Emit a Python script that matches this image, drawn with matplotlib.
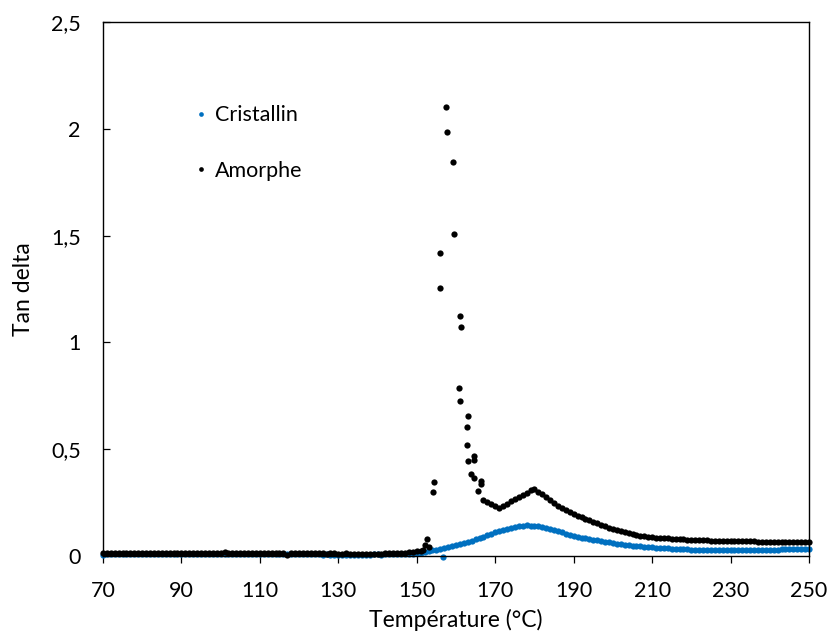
import numpy as np
import matplotlib
matplotlib.use('Agg')
import matplotlib.pyplot as plt

plt.rcParams['font.family'] = ['Lato', 'DejaVu Sans']

# Cristallin : 70..250 °C par pas de 1 °C
temp_cristallin = np.arange(70, 251, 1)
tan_cristallin = [
    0.006, 0.007, 0.007, 0.008, 0.007, 0.008, 0.008, 0.007, 0.008, 0.008,
    0.008, 0.009, 0.008, 0.009, 0.009, 0.008, 0.009, 0.009, 0.010, 0.009,
    0.009, 0.010, 0.010, 0.009, 0.010, 0.010, 0.011, 0.010, 0.010, 0.011,
    0.011, 0.010, 0.011, 0.011, 0.010, 0.010, 0.011, 0.010, 0.010, 0.009,
    0.009, 0.010, 0.009, 0.009, 0.008, 0.009, 0.008, 0.007, 0.008, 0.008,
    0.008, 0.007, 0.007, 0.008, 0.007, 0.007, 0.006, 0.007, 0.006, 0.006,
    0.006, 0.006, 0.005, 0.006, 0.006, 0.005, 0.006, 0.006, 0.006, 0.007,
    0.007, 0.006, 0.007, 0.007, 0.008, 0.008, 0.009, 0.010, 0.010, 0.011,
    0.012,
    0.014, 0.017, 0.021, 0.026, 0.030, 0.034, 0.038, 0.043, 0.048, 0.052,
    0.057, 0.062, 0.067, 0.072, 0.078, 0.084, 0.090, 0.097, 0.104, 0.110,
    0.116, 0.121, 0.126, 0.131, 0.135, 0.139, 0.141, 0.143, 0.142, 0.140,
    0.138, 0.135, 0.131, 0.127, 0.122, 0.116, 0.110, 0.104, 0.099, 0.094,
    0.090, 0.086, 0.082, 0.079, 0.076, 0.073, 0.070, 0.067, 0.064, 0.061,
    0.058, 0.056, 0.053, 0.051, 0.049, 0.047, 0.045, 0.043, 0.041, 0.040,
    0.038, 0.037, 0.036, 0.035, 0.034, 0.033, 0.032, 0.031, 0.031, 0.030,
    0.030, 0.029, 0.029, 0.028, 0.028, 0.028, 0.028, 0.028, 0.028, 0.028,
    0.028, 0.028, 0.028, 0.029, 0.029, 0.029, 0.029, 0.029, 0.030, 0.030,
    0.030, 0.030, 0.031, 0.031, 0.031, 0.032, 0.032, 0.032, 0.033, 0.033,
]
# point isolé sous l'axe
temp_cristallin_extra = [156.8]
tan_cristallin_extra = [-0.006]

# Amorphe : base 70..150 °C
temp_amorphe_bas = np.arange(70, 151, 1)
tan_amorphe_bas = [
    0.014, 0.015, 0.014, 0.014, 0.015, 0.014, 0.014, 0.013, 0.014, 0.014,
    0.014, 0.013, 0.014, 0.014, 0.015, 0.014, 0.015, 0.015, 0.014, 0.015,
    0.015, 0.015, 0.016, 0.015, 0.015, 0.016, 0.016, 0.015, 0.016, 0.016,
    0.016, 0.017, 0.016, 0.016, 0.016, 0.015, 0.016, 0.016, 0.015, 0.015,
    0.015, 0.014, 0.015, 0.014, 0.014, 0.014, 0.012, 0.004, 0.012, 0.013,
    0.013, 0.013, 0.012, 0.013, 0.012, 0.012, 0.012, 0.011, 0.012, 0.012,
    0.011, 0.011, 0.012, 0.011, 0.011, 0.011, 0.010, 0.011, 0.011, 0.011,
    0.011, 0.011, 0.012, 0.012, 0.012, 0.013, 0.014, 0.015, 0.017, 0.019,
    0.022,
]
# Amorphe : pic (températures irrégulières)
temp_amorphe_pic = [151.0, 151.5, 152.1, 152.6, 153.2, 154.2, 154.3, 155.8, 155.9,
                    157.4, 157.6, 159.2, 159.4, 160.7, 161.0, 161.1, 161.3, 162.7,
                    162.8, 163.1, 163.1, 163.9, 164.5, 164.5, 164.7, 165.6, 166.3, 166.4]
tan_amorphe_pic = [0.025, 0.030, 0.050, 0.078, 0.040, 0.298, 0.348, 1.255, 1.418,
                   2.100, 1.986, 1.843, 1.509, 0.787, 1.124, 0.725, 1.074, 0.519,
                   0.605, 0.655, 0.444, 0.384, 0.468, 0.366, 0.449, 0.304, 0.349, 0.337]
# Amorphe : 167..250 °C
temp_amorphe_haut = np.arange(167, 251, 1)
tan_amorphe_haut = [
    0.262, 0.252, 0.242, 0.234, 0.226, 0.232, 0.245, 0.258, 0.268, 0.276,
    0.285, 0.296, 0.308, 0.312, 0.300, 0.288, 0.276, 0.262, 0.249, 0.236,
    0.224, 0.213, 0.204, 0.196, 0.189, 0.182, 0.175, 0.168, 0.161, 0.154,
    0.147, 0.140, 0.133, 0.127, 0.121, 0.115, 0.110, 0.106, 0.102, 0.098,
    0.095, 0.092, 0.089, 0.087, 0.085, 0.084, 0.083, 0.082, 0.081, 0.080,
    0.079, 0.078, 0.077, 0.076, 0.075, 0.074, 0.073, 0.073, 0.072, 0.072,
    0.071, 0.071, 0.070, 0.070, 0.069, 0.069, 0.069, 0.068, 0.068, 0.068,
    0.067, 0.067, 0.067, 0.066, 0.066, 0.066, 0.065, 0.065, 0.065, 0.064,
    0.064, 0.064, 0.064, 0.064,
]

x_ticks = [70, 90, 110, 130, 150, 170, 190, 210, 230, 250]
y_ticks = [0, 0.5, 1, 1.5, 2, 2.5]
y_tick_labels = ['0', '0,5', '1', '1,5', '2', '2,5']

bleu = '#0070C0'

temp_amorphe = np.concatenate([temp_amorphe_bas, temp_amorphe_pic, temp_amorphe_haut])
tan_amorphe = np.concatenate([tan_amorphe_bas, tan_amorphe_pic, tan_amorphe_haut])

fig = plt.figure(figsize=(8.29, 6.4), dpi=100)
ax = fig.add_axes([0.1242, 0.1313, 0.8517, 0.8343])

ax.plot(np.concatenate([temp_cristallin, temp_cristallin_extra]),
        np.concatenate([tan_cristallin, tan_cristallin_extra]),
        linestyle='none', marker='o', markersize=4.5, color=bleu,
        markeredgewidth=0, label='Cristallin', clip_on=False)
ax.plot(temp_amorphe, tan_amorphe, linestyle='none', marker='o', markersize=4.5,
        color='black', markeredgewidth=0, label='Amorphe', clip_on=False)

ax.set_xlim(70, 250)
ax.set_ylim(0, 2.5)
ax.set_xticks(x_ticks)
ax.set_xticklabels([str(t) for t in x_ticks])
ax.set_yticks(y_ticks)
ax.set_yticklabels(y_tick_labels)

ax.tick_params(axis='x', direction='out', length=5, width=0.9, labelsize=15.5, pad=13)
ax.tick_params(axis='y', direction='in', length=5, width=0.9, labelsize=15.5, pad=16)
for s in ax.spines.values():
    s.set_linewidth(1.0)
    s.set_color('black')

ax.set_xlabel('Température (°C)', fontsize=16.5, labelpad=6)
ax.set_ylabel('Tan delta', fontsize=16.5, labelpad=12)

leg = ax.legend(loc='upper left', bbox_to_anchor=(0.105, 0.88), frameon=False,
                fontsize=15.5, handlelength=0.4, handletextpad=0.45,
                labelspacing=1.65, markerscale=0.75)

fig.savefig('out.png', dpi=100)
